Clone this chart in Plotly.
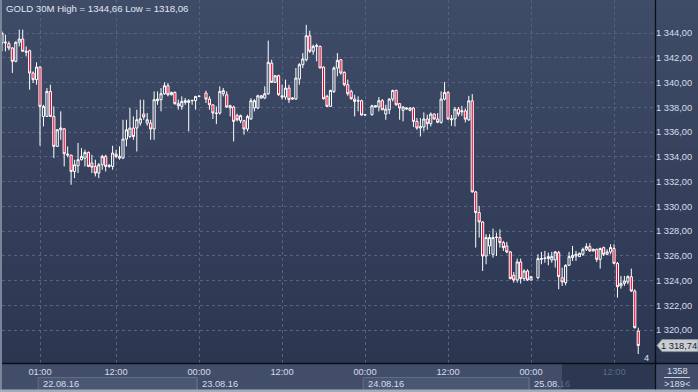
import plotly.graph_objects as go

# ---------------- data (GOLD, 30M candles, index 0..184) ----------------
open_ = [1343.19,1343.19,1343.14,1342.79,1341.71,1343.25,1343.51,1342.52,1342.57,1340.77,
         1340.23,1341.25,1337.26,1337.26,1339.28,1337.26,1334.84,1336.18,1336.26,1334.13,
         1334.13,1332.81,1333.27,1333.76,1333.89,1334.35,1333.49,1333.22,1332.68,1333.35,
         1334.03,1333.22,1333.22,1334.22,1333.89,1333.89,1335.43,1335.64,1336.32,1336.32,
         1336.72,1337.45,1336.72,1336.72,1336.24,1338.53,1338.61,1339.09,1339.74,1339.01,
         1339.20,1338.29,1338.07,1338.39,1338.39,1338.53,1338.53,1338.88,None,1339.15,
         1338.66,1338.20,1337.53,1337.53,1339.09,1339.01,1337.94,1338.02,1337.32,1336.91,
         1336.91,1336.24,1337.05,1337.94,1337.94,1338.74,1338.74,1339.09,1341.57,1340.01,
         1340.55,1338.93,1338.82,1339.55,1338.66,1338.66,1340.28,1341.44,1341.84,1343.78,
         1342.52,1342.92,1342.92,1341.25,1338.88,1338.07,1339.28,1341.17,1341.84,1340.82,
         1339.82,1339.28,1338.66,1338.50,1338.53,1337.37,None,1337.40,1338.02,1338.02,
         1338.53,1337.45,1337.80,1338.66,1339.36,1338.29,1337.75,1337.85,1337.75,1337.94,
         1336.86,1336.32,1336.40,1337.05,1336.67,1337.45,1337.05,1336.78,1338.66,1339.20,
         1336.99,1337.05,1337.85,1337.63,1337.71,1336.98,1338.52,1331.16,1329.49,1328.73,
         1325.98,1326.79,1326.12,1327.47,1327.47,1327.06,1326.79,1326.31,1324.42,1324.04,
         1325.50,1324.15,1324.77,1324.04,None,1324.23,1325.71,1325.77,1325.77,1325.66,
         1325.66,1326.25,1324.23,1323.83,1325.23,1325.85,1325.98,1325.93,1326.12,1326.52,
         1326.74,1326.39,1326.52,1325.71,1326.66,1326.12,1326.31,1326.58,1325.39,1323.56,
         1323.77,1323.88,1324.31,1323.15,1319.92]
high = [1344.13,1343.87,1343.33,1342.85,1343.33,1344.27,1344.27,1342.92,1342.65,1340.90,
        1341.63,1341.30,1338.20,1339.55,1339.82,1338.07,1336.24,1337.67,1336.30,1334.84,
        1334.16,1333.76,1335.11,1334.70,1334.57,1334.43,1334.16,1333.76,1333.49,1334.16,
        1334.16,1333.40,1334.89,1334.57,1334.84,1336.99,1336.99,1337.94,1337.26,1337.80,
        1338.61,1338.61,1337.53,1336.99,1339.28,1339.28,1339.55,1340.01,1339.96,1339.25,
        1339.28,1338.61,1338.88,1338.74,1338.66,1338.61,1338.88,1338.92,None,1339.34,
        1338.88,1338.20,1338.07,1339.69,1339.55,1339.28,1338.20,1338.12,1337.48,1337.40,
        1336.99,1337.40,1338.74,1338.66,1339.01,1339.00,1339.69,1343.38,1341.84,1340.60,
        1340.63,1339.82,1340.23,1339.82,1338.80,1341.17,1341.57,1342.38,1344.66,1344.19,
        1343.06,1343.14,1342.98,1341.30,1339.01,1339.42,1341.30,1342.38,1341.90,1340.90,
        1340.23,1339.42,1339.01,1338.88,1338.61,1337.42,None,1338.20,1338.15,1338.82,
        1338.66,1338.20,1338.74,1339.42,1339.42,1338.34,1338.07,1337.98,1338.02,1338.02,
        1337.13,1337.13,1337.58,1337.40,1337.58,1337.50,1337.53,1339.28,1340.04,1339.28,
        1337.37,1338.02,1338.02,1338.11,1337.90,1338.92,1339.06,1331.24,1330.03,1328.81,
        1327.74,1327.74,1328.19,1327.87,1328.14,1327.20,1327.12,1326.39,1324.69,1325.77,
        1325.77,1324.91,1324.91,1324.35,None,1326.12,1326.31,1326.39,1326.25,1326.31,
        1326.39,1326.39,1325.04,1325.31,1326.31,1326.79,1326.39,1326.25,1326.66,1327.01,
        1327.01,1326.58,1326.58,1326.66,1326.74,1326.52,1326.93,1326.93,1325.50,1324.37,
        1324.37,1324.42,1324.96,1323.29,1320.19]
low = [1342.52,1342.52,1342.60,1340.77,1341.63,1342.92,1342.52,1342.11,1339.42,1339.96,
       1339.82,1334.89,1336.45,1337.26,1337.20,1333.89,1334.80,1335.37,1333.22,1333.95,
       1331.74,1332.27,1332.68,1333.70,1333.22,1333.16,1332.68,1332.41,1332.27,1332.95,
       1332.81,1333.10,1332.95,1333.89,1333.76,1333.81,1334.84,1335.51,1335.37,1334.43,
       1336.51,1336.99,1336.51,1335.37,1335.37,1338.20,1337.67,1339.01,1338.88,1338.95,
       1338.20,1337.80,1337.80,1338.20,1336.05,1338.20,1337.80,1338.86,None,1338.34,
       1337.80,1337.05,1336.64,1337.40,1338.88,1337.94,1337.26,1335.24,1336.86,1336.72,
       1335.78,1336.05,1337.00,1337.67,1337.85,1338.70,1338.66,1339.01,1339.96,1339.96,
       1338.93,1338.61,1338.61,1338.34,1338.60,1338.61,1339.82,1341.17,1341.71,1342.38,
       1342.25,1341.71,1341.17,1338.61,1338.07,1338.02,1339.15,1340.50,1340.63,1339.69,
       1338.93,1338.61,1337.26,1337.67,1337.32,1337.35,None,1337.32,1337.98,1337.67,
       1337.75,1336.99,1337.45,1338.47,1338.12,1336.99,1336.86,1337.80,1337.67,1336.40,
       1336.18,1335.64,1336.05,1336.18,1336.45,1337.00,1336.72,1336.67,1338.55,1336.99,
       1336.51,1336.45,1337.26,1337.30,1336.77,1336.90,1331.11,1326.66,1327.47,1324.77,
       1325.31,1326.12,1325.85,1325.98,1326.66,1326.39,1326.20,1324.10,1323.83,1323.83,
       1323.75,1323.96,1323.96,1324.00,None,1324.10,1325.31,1325.44,1325.23,1325.44,
       1325.04,1323.29,1323.56,1323.61,1325.18,1325.58,1325.58,1325.90,1325.98,1326.39,
       1326.31,1326.35,1325.50,1324.96,1325.98,1326.04,1326.12,1325.31,1322.61,1323.34,
       1323.56,1323.69,1323.07,1320.11,1318.06]
close = [1344.00,1343.25,1342.79,1341.71,1343.25,1343.51,1342.52,1342.45,1340.77,1340.23,
         1341.25,1338.07,1338.07,1339.28,1337.26,1334.84,1336.18,1336.32,1334.24,1334.20,
         1332.81,1333.35,1333.76,1334.03,1334.35,1333.22,1333.16,1332.68,1333.35,1334.03,
         1333.22,1333.30,1334.30,1334.03,1334.03,1335.43,1336.18,1336.32,1335.64,1336.99,
         1337.07,1337.21,1336.99,1336.24,1338.61,1338.66,1339.09,1339.74,1339.01,1339.20,
         1338.29,1338.12,1338.47,1338.53,1338.53,1338.55,1338.88,1338.90,None,1338.66,
         1338.20,1337.53,1337.50,1339.28,1339.34,1338.02,1338.12,1336.86,1336.99,1337.32,
         1336.24,1337.26,1338.53,1338.53,1338.93,1338.93,1339.09,1341.63,1340.01,1340.55,
         1339.01,1338.82,1339.55,1338.61,1338.74,1340.36,1341.44,1341.90,1343.78,1342.52,
         1342.92,1342.98,1341.17,1338.69,1338.07,1339.36,1341.17,1341.79,1340.77,1339.82,
         1339.09,1338.69,1338.47,1338.53,1337.37,1337.40,None,1338.12,1338.12,1338.53,
         1337.80,1337.85,1338.66,1339.36,1338.20,1337.94,1338.02,1337.94,1337.94,1336.86,
         1336.32,1336.45,1337.05,1336.67,1337.45,1337.05,1336.78,1338.66,1339.20,1337.05,
         1337.05,1337.85,1337.45,1337.71,1337.04,1338.52,1331.16,1329.49,1328.73,1325.98,
         1327.47,1327.47,1327.47,1327.50,1327.06,1326.66,1326.31,1324.15,1324.04,1325.50,
         1324.15,1324.77,1324.04,1324.31,None,1325.77,1325.77,1325.80,1325.93,1325.93,
         1326.31,1324.31,1323.88,1325.23,1325.93,1326.04,1326.12,1326.20,1326.52,1326.74,
         1326.39,1326.52,1325.71,1326.58,1326.12,1326.31,1326.66,1325.39,1323.50,1323.77,
         1323.96,1324.31,1323.15,1320.19,1318.74]
candle_index = list(range(len(close)))

time_tick_index = [11, 33, 57, 81, 105, 129, 153, 177]
time_tick_text = ["01:00", "12:00", "00:00", "12:00", "00:00", "12:00", "00:00", "12:00"]
date_start_index = [11, 57, 105, 153]
date_end_index = [57, 105, 153, 162]
date_labels = ["22.08.16", "23.08.16", "24.08.16", "25.08.16"]
price_ticks = [1320, 1322, 1324, 1326, 1328, 1330, 1332, 1334, 1336, 1338, 1340, 1342, 1344]
title_text = "GOLD 30M High = 1344,66 Low = 1318,06"
last_price_text = "1 318,74"
corner_top, corner_bottom = "1358", ">189<"

# ---------------- geometry helpers (figure pixels -> paper) ----------------
W, H = 698, 392
PL, PR, PT, PB = 2, 655, 0, 363
def px(x):
    return x / W
def py(y):
    return (H - y) / H

FONT = "Liberation Sans, Arial, sans-serif"
TXT = "#d6dded"
GRID = "#566380"

fig = go.Figure()
fig.add_trace(go.Candlestick(
    x=candle_index, open=open_, high=high, low=low, close=close,
    increasing=dict(line=dict(color="#ffffff", width=1), fillcolor="rgba(0,0,0,0)"),
    decreasing=dict(line=dict(color="#ffffff", width=1), fillcolor="#f5002e"),
    whiskerwidth=0, hoverinfo="skip", showlegend=False,
))

shapes = []
# vertical gradient background
top_c = (63, 76, 104)
bot_c = (43, 54, 81)
nb = 44
for k in range(nb):
    t = (k + 0.5) / nb
    c = tuple(round(top_c[j] + (bot_c[j] - top_c[j]) * t) for j in range(3))
    y0 = PB * k / nb
    y1 = min(PB * (k + 1) / nb + 0.6, PB)
    shapes.append(dict(type="rect", xref="paper", yref="paper", layer="below",
                       x0=px(0), x1=px(W), y0=py(y1), y1=py(y0),
                       line=dict(width=0), fillcolor="rgb(%d,%d,%d)" % c))
# date boxes in time axis band (alternating outlined ones)
for k, (s, e) in enumerate(zip(date_start_index, date_end_index)):
    if k % 2 == 0:
        shapes.append(dict(type="rect", xref="x", yref="paper", layer="below",
                           x0=s - 0.55, x1=e - 0.55, y0=py(390.5), y1=py(377.5),
                           line=dict(width=1, color="#5f6c88"), fillcolor="#4a5773"))
    else:
        shapes.append(dict(type="line", xref="x", yref="paper", layer="below",
                           x0=s - 0.55, x1=s - 0.55, y0=py(390.5), y1=py(377.5),
                           line=dict(width=1, color="#5f6c88")))
# darker future zone in time band
shapes.append(dict(type="rect", xref="paper", yref="paper", layer="below",
                   x0=px(562), x1=px(655), y0=py(389), y1=py(364),
                   line=dict(width=0), fillcolor="#2c3751"))
# frame lines
shapes.append(dict(type="line", xref="paper", yref="paper", layer="above",
                   x0=px(2), x1=px(W), y0=py(363.5), y1=py(363.5),
                   line=dict(width=1.3, color="#0b0f18")))
shapes.append(dict(type="line", xref="paper", yref="paper", layer="above",
                   x0=px(655.5), x1=px(655.5), y0=py(H), y1=py(0),
                   line=dict(width=1.3, color="#0b0f18")))
shapes.append(dict(type="rect", xref="paper", yref="paper", layer="above",
                   x0=px(0), x1=px(2), y0=py(H), y1=py(0),
                   line=dict(width=0), fillcolor="#7b859a"))
shapes.append(dict(type="rect", xref="paper", yref="paper", layer="above",
                   x0=px(0), x1=px(W), y0=py(H), y1=py(389.5),
                   line=dict(width=0), fillcolor="#a3abba"))
# corner separator line
shapes.append(dict(type="line", xref="paper", yref="paper", layer="above",
                   x0=px(664), x1=px(690), y0=py(377.5), y1=py(377.5),
                   line=dict(width=1, color="#c9d0de")))
# last-price tag arrow
shapes.append(dict(type="path", xref="paper", yref="y", layer="above",
                   xsizemode="pixel", ysizemode="pixel",
                   xanchor=px(657), yanchor=close[-1],
                   path="M 0 0 L 5 6 L 41 6 L 41 -6 L 5 -6 Z",
                   line=dict(width=1, color="#8d939e"), fillcolor="#c9cdd4"))

annotations = [
    dict(text=title_text, xref="paper", yref="paper", x=px(4), y=py(8.5),
         xanchor="left", yanchor="middle", showarrow=False,
         font=dict(family=FONT, size=9.6, color="#e2e7f1")),
    dict(text=last_price_text, xref="paper", yref="y", x=px(679), y=close[-1],
         xanchor="center", yanchor="middle", showarrow=False,
         font=dict(family=FONT, size=9.3, color="#1b1e24")),
    dict(text=corner_top, xref="paper", yref="paper", x=px(677), y=py(371),
         xanchor="center", yanchor="middle", showarrow=False,
         font=dict(family=FONT, size=9.3, color=TXT)),
    dict(text=corner_bottom, xref="paper", yref="paper", x=px(677), y=py(384),
         xanchor="center", yanchor="middle", showarrow=False,
         font=dict(family=FONT, size=9.3, color=TXT)),
    dict(text="4", xref="paper", yref="paper", x=px(646), y=py(358),
         xanchor="center", yanchor="middle", showarrow=False,
         font=dict(family=FONT, size=9.3, color="#cfe0ff")),
]
for k, (s, lab) in enumerate(zip(date_start_index, date_labels)):
    t = lab
    if k == len(date_labels) - 1:
        t = lab[:6] + "<span style='color:#5d6a86'>" + lab[6:] + "</span>"
    annotations.append(dict(text=t, xref="x", yref="paper", x=s - 0.55, xshift=3,
                            y=py(384), xanchor="left", yanchor="middle", showarrow=False,
                            font=dict(family=FONT, size=9.3, color=TXT)))

tick_text_styled = []
for k, t in enumerate(time_tick_text):
    if k == len(time_tick_text) - 1:
        tick_text_styled.append("<span style='color:#5d6a86'>" + t + "</span>")
    else:
        tick_text_styled.append(t)

x_lo = (PL - 1.96) / 3.458
x_hi = (PR - 1.96) / 3.458
y_lo = 1344 - (PB - 33) / 12.375
y_hi = 1344 + 33 / 12.375

fig.update_layout(
    width=W, height=H, autosize=False,
    margin=dict(l=0, r=0, t=0, b=0),
    paper_bgcolor="#424e69", plot_bgcolor="rgba(0,0,0,0)",
    separators=", ",
    boxgap=0.12,
    showlegend=False,
    shapes=shapes, annotations=annotations,
    xaxis=dict(domain=[px(PL), px(PR)], range=[x_lo, x_hi], rangeslider=dict(visible=False),
               tickmode="array", tickvals=time_tick_index, ticktext=tick_text_styled,
               showgrid=True, gridcolor=GRID, griddash="3px,3px", gridwidth=1,
               zeroline=False, showline=False, ticks="", ticklen=0, ticklabelstandoff=2,
               tickfont=dict(family=FONT, size=9.3, color=TXT)),
    yaxis=dict(domain=[py(PB), 1], range=[y_lo, y_hi], side="right",
               tickmode="array", tickvals=price_ticks, tickformat=",.2f",
               showgrid=True, gridcolor=GRID, griddash="3px,3px", gridwidth=1,
               zeroline=False, showline=False, ticks="", ticklen=0,
               tickfont=dict(family=FONT, size=9.3, color=TXT)),
)

fig.write_html("out.html")
